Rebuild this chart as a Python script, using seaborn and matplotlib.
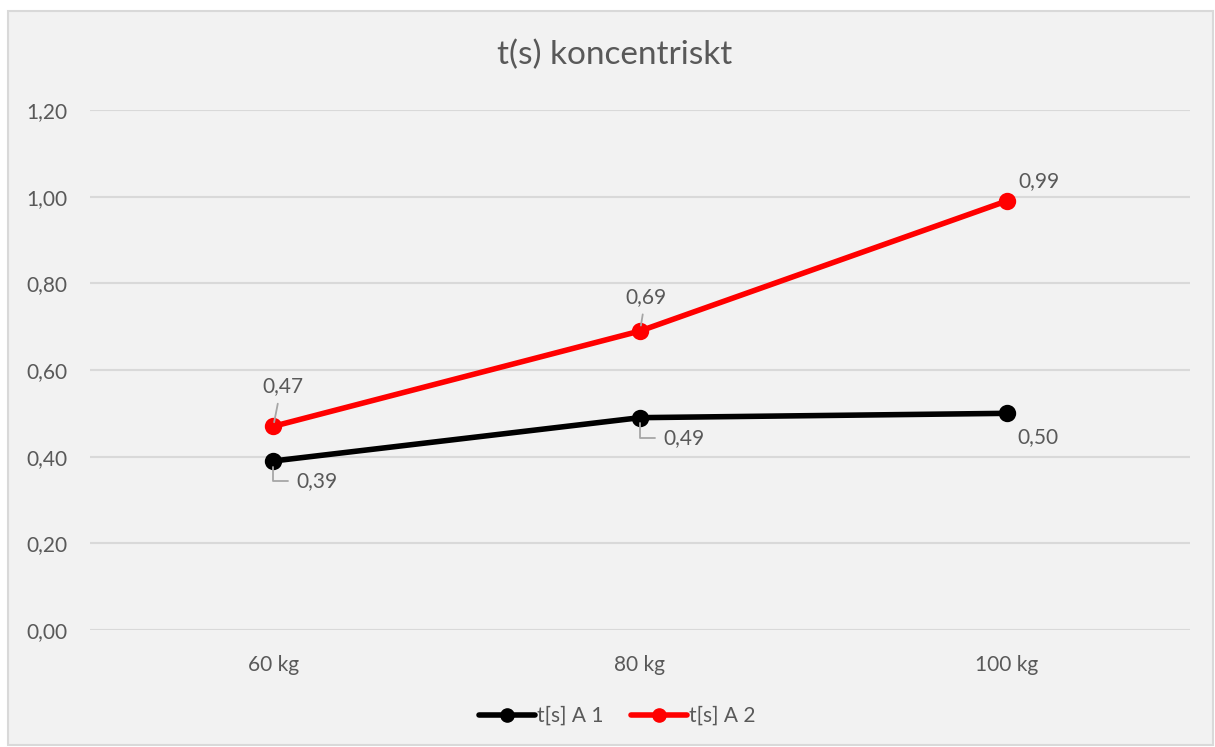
import matplotlib
matplotlib.use("Agg")
import matplotlib.pyplot as plt
import seaborn as sns
import pandas as pd
from matplotlib.patches import Rectangle

# Data
vikter = ["60 kg", "80 kg", "100 kg"]
serie_a1 = [0.39, 0.49, 0.50]
serie_a2 = [0.47, 0.69, 0.99]
serie_namn = ["t[s] A 1", "t[s] A 2"]
y_ticks = [0.0, 0.2, 0.4, 0.6, 0.8, 1.0, 1.2]

df = pd.DataFrame({
    "vikt": vikter * 2,
    "t": serie_a1 + serie_a2,
    "serie": [serie_namn[0]] * 3 + [serie_namn[1]] * 3,
})

sns.set_theme(style="white")
plt.rcParams["font.family"] = ["Lato", "DejaVu Sans"]

TXT = "#595959"
GRID = "#d9d9d9"
BG = "#f2f2f2"
FS = 15

fig = plt.figure(figsize=(12.15, 7.47), dpi=100, facecolor="white")
# chart area frame
fig.patches.append(Rectangle((8 / 1215, 2 / 747), 1205 / 1215, 734 / 747,
                             transform=fig.transFigure, facecolor=BG,
                             edgecolor=GRID, linewidth=1.5, zorder=-10))

ax = fig.add_axes([90 / 1215, 1 - 630 / 747, 1100 / 1215, 520 / 747])
ax.set_facecolor(BG)

sns.pointplot(data=df, x="vikt", y="t", hue="serie", order=vikter,
              palette={serie_namn[0]: "black", serie_namn[1]: "#ff0000"},
              markers="o", linewidth=4, markersize=9.5, errorbar=None,
              ax=ax, legend=False)

ax.set_ylim(0, 1.2)
ax.set_xlim(-0.5, 2.5)
ax.set_yticks(y_ticks)
ax.set_yticklabels([f"{v:.2f}".replace(".", ",") for v in y_ticks])
ax.yaxis.grid(True, color=GRID, linewidth=1.5)
ax.set_axisbelow(True)
for s in ax.spines.values():
    s.set_visible(False)
ax.tick_params(axis="both", length=0, labelsize=FS, colors=TXT)
ax.tick_params(axis="y", pad=16)
ax.tick_params(axis="x", pad=18)
ax.set_xlabel("")
ax.set_ylabel("")

# Data labels with gray leader lines
lead = dict(arrowstyle="-", color="#a6a6a6", linewidth=1.3)
def label(i, v, dx, dy, arrow=None):
    txt = f"{v:.2f}".replace(".", ",")
    kw = {}
    if arrow is not None:
        kw["arrowprops"] = arrow
    ax.annotate(txt, xy=(i, v), xytext=(dx, dy), textcoords="offset pixels",
                ha="center", va="center", fontsize=FS, color=TXT, **kw)

label(0, serie_a2[0], 10, 40, dict(lead, shrinkA=3, shrinkB=3, relpos=(0.4, 0)))
label(1, serie_a2[1], 6, 34, dict(lead, shrinkA=3, shrinkB=4, relpos=(0.45, 0)))
label(2, serie_a2[2], 32, 20)
label(0, serie_a1[0], 44, -20, dict(lead, shrinkA=4, shrinkB=4, relpos=(0, 0.5),
                                    connectionstyle="angle,angleA=0,angleB=90,rad=0"))
label(1, serie_a1[1], 44, -20, dict(lead, shrinkA=4, shrinkB=4, relpos=(0, 0.5),
                                    connectionstyle="angle,angleA=0,angleB=90,rad=0"))
label(2, serie_a1[2], 31, -24)

fig.text(0.5055, 1 - 55 / 747, "t(s) koncentriskt", ha="center", va="center",
         fontsize=24, color=TXT)

handles = [plt.Line2D([], [], color=c, linewidth=4, marker="o", markersize=9.5)
           for c in ["black", "#ff0000"]]
fig.legend(handles, serie_namn, loc="center", bbox_to_anchor=(0.508, 1 - 716 / 747),
           ncol=2, frameon=False, fontsize=FS, labelcolor=TXT, handlelength=2.7,
           handletextpad=0.1, columnspacing=1.3)

fig.savefig("out.png", dpi=100, facecolor="white")
